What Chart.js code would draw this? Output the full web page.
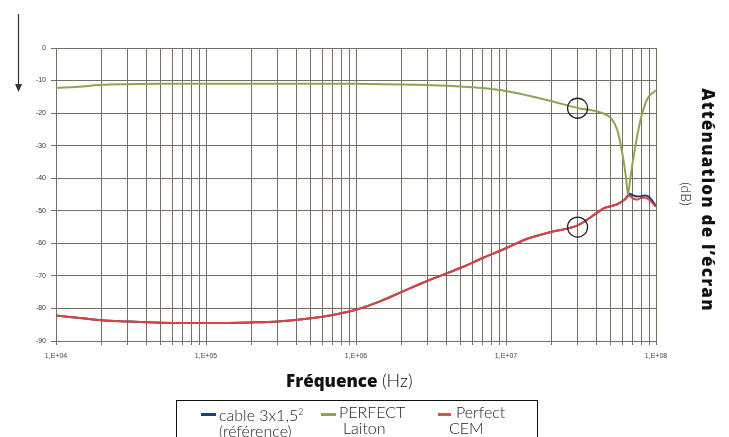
<!DOCTYPE html>
<html lang="fr">
<head>
<meta charset="UTF-8" />
<title>Atténuation de l'écran</title>
<script src="https://cdn.jsdelivr.net/npm/chart.js@4.4.0/dist/chart.umd.min.js"></script>
<style>
  body { margin: 0; background: #fff; }
  #wrap { position: relative; width: 729px; height: 437px; overflow: hidden; }
  #chart { position: absolute; left: 0; top: 0; }
  .lbl { position: absolute; white-space: nowrap; color: #111; }
  .xtitle { left: 286px; top: 369px; font-family: "Open Sans", sans-serif; font-size: 17px; }
  .xtitle b { font-weight: 800; }
  .xtitle span { font-size: 18px; }
  .xtitle span, .leg, .dB { font-family: Lato, sans-serif; font-weight: 300; }
  .ytitle { left: 708px; top: 200px; transform: translate(-50%, -50%) rotate(90deg);
            font-family: "Open Sans", sans-serif; font-weight: 800; font-size: 17px; letter-spacing: 1.2px; }
  .dB { left: 686px; top: 194px; transform: translate(-50%, -50%) rotate(90deg); font-size: 14px; }
  #legend { position: absolute; left: 176px; top: 400px; width: 362px; height: 50px;
            border: 1px solid #111; box-sizing: border-box; }
  .leg { position: absolute; font-size: 16px; line-height: 16px; color: #222; }
  .leg sup { font-size: 9px; vertical-align: 6px; }
  .sw { position: absolute; height: 3px; }
</style>
</head>
<body>
<div id="wrap">
  <canvas id="chart" width="729" height="437"></canvas>
  <div class="lbl xtitle"><b>Fréquence</b> <span>(Hz)</span></div>
  <div class="lbl ytitle">Atténuation de l’écran</div>
  <div class="lbl dB">(dB)</div>
  <div id="legend">
    <span class="sw" style="left:24px; top:12px; width:15px; background:#1f3d7a"></span>
    <div class="leg" style="left:42px; top:3px;">cable 3x1,5<sup>2</sup><br>(référence)</div>
    <span class="sw" style="left:144px; top:12px; width:15px; background:#8fa454"></span>
    <div class="leg" style="left:162px; top:3px;">PERFECT</div>
    <div class="leg" style="left:166px; top:19px;">Laiton</div>
    <span class="sw" style="left:261px; top:12px; width:13px; background:#e0504a"></span>
    <div class="leg" style="left:279px; top:3px;">Perfect</div>
    <div class="leg" style="left:272px; top:19px;">CEM</div>
  </div>
</div>

<script>
  // fréquences (Hz) communes aux trois courbes
  const freqs = [1e4, 1.5e4, 2e4, 3e4, 5e4, 7e4, 1e5, 2e5, 3e5, 5e5, 7e5, 1e6, 1.5e6, 2e6, 3e6,
                 5e6, 7e6, 1e7, 1.4e7, 2e7, 3e7, 4e7, 4.5e7, 5e7, 5.5e7, 6e7, 6.3e7, 6.5e7, 6.7e7,
                 7e7, 7.5e7, 8e7, 8.5e7, 9e7, 1e8];

  // atténuation (dB)
  const cableValues = [-82.2, -83, -83.6, -84, -84.4, -84.5, -84.5, -84.3, -84, -83, -82, -80.4, -77.5, -75, -71.5,
                       -67.5, -64.5, -61.5, -58.5, -56.5, -54.5, -50.8, -49.2, -48.6, -48, -47, -46.2, -45.2, -44.8,
                       -45.2, -45.6, -45.5, -45.3, -45.8, -48.5];
  const laitonValues = [-12.3, -11.8, -11.3, -11.1, -11, -11, -11, -11, -11, -11, -11, -11, -11.1, -11.2, -11.4,
                        -11.8, -12.3, -13.2, -14.6, -16.3, -18.4, -19.4, -20.2, -21.5, -25, -33, -39.5, -45, -41,
                        -35, -27, -21, -17, -14.8, -13];
  const cemValues = [-82.2, -83, -83.6, -84, -84.4, -84.5, -84.5, -84.3, -84, -83, -82, -80.4, -77.5, -75, -71.5,
                     -67.5, -64.5, -61.5, -58.5, -56.5, -54.5, -50.8, -49.2, -48.6, -48, -47, -46.2, -45.6, -45.4,
                     -46.2, -46.6, -46, -46, -46.6, -48.8];

  const yTicks = [0, -10, -20, -30, -40, -50, -60, -70, -80, -90];
  const xTickLabels = { 1e4: "1,E+04", 1e5: "1,E+05", 1e6: "1,E+06", 1e7: "1,E+07", 1e8: "1,E+08" };

  // cercles de repère
  const circleFreq = 3e7;
  const circleValues = [-18.5, -55];

  const pts = (vals) => freqs.map((f, i) => ({ x: f, y: vals[i] }));

  const gridColor = "#7a6d64";

  const extras = {
    id: "extras",
    afterDatasetsDraw(chart) {
      const ctx = chart.ctx;
      const xs = chart.scales.x, ys = chart.scales.y;
      ctx.save();
      ctx.strokeStyle = "#222";
      ctx.lineWidth = 1.3;
      circleValues.forEach((v) => {
        ctx.beginPath();
        ctx.arc(xs.getPixelForValue(circleFreq), ys.getPixelForValue(v), 10, 0, Math.PI * 2);
        ctx.stroke();
      });
      // flèche à gauche
      ctx.strokeStyle = "#333";
      ctx.fillStyle = "#333";
      ctx.lineWidth = 1.2;
      ctx.beginPath();
      ctx.moveTo(18.5, 14);
      ctx.lineTo(18.5, 86);
      ctx.stroke();
      ctx.beginPath();
      ctx.moveTo(15, 84);
      ctx.lineTo(22, 84);
      ctx.lineTo(18.5, 92);
      ctx.closePath();
      ctx.fill();
      ctx.restore();
    }
  };

  new Chart(document.getElementById("chart"), {
    type: "line",
    data: {
      datasets: [
        { label: "Perfect CEM", data: pts(cemValues), borderColor: "#d9443f", borderWidth: 2 },
        { label: "PERFECT Laiton", data: pts(laitonValues), borderColor: "#8fa454", borderWidth: 2 },
        { label: "cable 3x1,5² (référence)", data: pts(cableValues), borderColor: "#1f3d7a", borderWidth: 2 }
      ]
    },
    options: {
      responsive: false,
      animation: false,
      elements: { point: { radius: 0 }, line: { cubicInterpolationMode: "monotone" } },
      layout: { padding: { left: 0, right: 73, top: 48, bottom: 0 } },
      plugins: { legend: { display: false }, tooltip: { enabled: false } },
      scales: {
        x: {
          type: "logarithmic",
          min: 1e4,
          max: 1e8,
          afterBuildTicks(scale) {
            const t = [];
            for (let e = 4; e < 8; e++) for (let m = 1; m < 10; m++) t.push({ value: m * Math.pow(10, e) });
            t.push({ value: 1e8 });
            scale.ticks = t;
          },
          afterFit(scale) { scale.height = 96; },
          ticks: {
            autoSkip: false,
            maxRotation: 0,
            padding: 7,
            color: "#444",
            font: { family: "Arial, Liberation Sans, sans-serif", size: 7 },
            callback(v) { return xTickLabels[v] || ""; }
          },
          grid: { color: gridColor, lineWidth: 1, tickLength: 4 },
          border: { color: gridColor }
        },
        y: {
          min: -90,
          max: 0,
          afterBuildTicks(scale) { scale.ticks = yTicks.map((v) => ({ value: v })); },
          afterFit(scale) { scale.width = 56; },
          ticks: {
            color: "#333",
            padding: 5,
            font: { family: "Arial, Liberation Sans, sans-serif", size: 7 }
          },
          grid: { color: gridColor, lineWidth: 1, tickLength: 5 },
          border: { color: gridColor }
        }
      }
    },
    plugins: [extras]
  });
</script>
</body>
</html>
